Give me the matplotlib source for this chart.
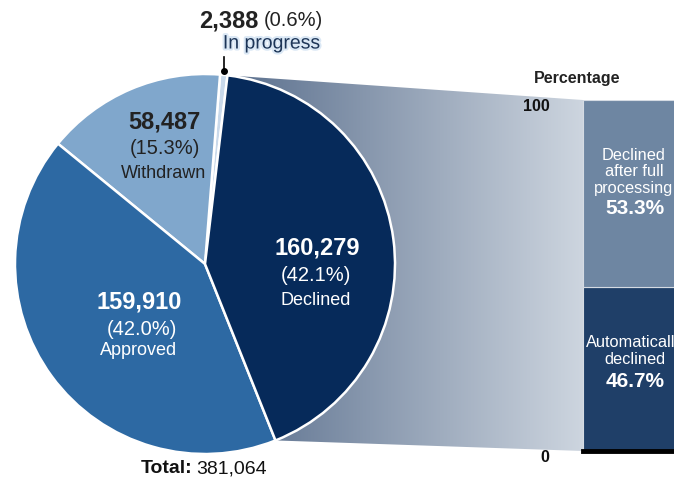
import matplotlib
matplotlib.use('Agg')
import matplotlib.pyplot as plt
import numpy as np
from matplotlib.patches import Polygon
from matplotlib.colors import to_rgb
import matplotlib.patheffects as pe
import matplotlib.transforms as mtransforms

plt.rcParams['font.family'] = ['Liberation Sans', 'DejaVu Sans']

# ---- data ----
categories = ['In progress', 'Withdrawn', 'Approved', 'Declined']
counts = [2388, 58487, 159910, 160279]
shares = [0.6, 15.3, 42.0, 42.1]
total = 381064
slice_colors = ['#c9d9ea', '#80a7cc', '#2d69a3', '#062a5a']

breakdown_labels = ['Automatically\ndeclined', 'Declined\nafter full\nprocessing']
breakdown_values = [46.7, 53.3]
breakdown_colors = ['#1f3f68', '#6e86a2']
y_ticks = [0, 100]

W, H = 674, 489
fig = plt.figure(figsize=(W / 100, H / 100), dpi=100)


def fx(x):
    return x / W


def fy(y):
    return 1 - y / H


# background axes in display pixels (for connector gradient)
bg = fig.add_axes([0, 0, 1, 1], zorder=0)
bg.set_xlim(0, W)
bg.set_ylim(0, H)
bg.axis('off')

# ---- pie ----
cx, cy, r = 205, 265, 190
axp = fig.add_axes([fx(cx - r), fy(cy + r), 2 * r / W, 2 * r / H], zorder=2)
axp.patch.set_alpha(0)
wedges, _ = axp.pie(counts, colors=slice_colors, startangle=83.2, counterclock=True,
                    wedgeprops=dict(edgecolor='white', linewidth=1.8))
axp.set_xlim(-1, 1)
axp.set_ylim(-1, 1)

# ---- stacked bar ----
bar_top_px, bar_bot_px, bar_left_px = 101, 452, 583
axb = fig.add_axes([fx(bar_left_px), fy(bar_bot_px), 0.2, (bar_bot_px - bar_top_px) / H], zorder=1)
bottom = 0
for v, c in zip(breakdown_values, breakdown_colors):
    axb.bar(0, v, width=1, bottom=bottom, align='edge', color=c, edgecolor='#d5dbe3', linewidth=0.8)
    bottom += v
axb.set_xlim(0, 1)
axb.set_ylim(0, 100)
for s in ['left', 'top', 'right']:
    axb.spines[s].set_visible(False)
axb.spines['bottom'].set_linewidth(3.5)
axb.spines['bottom'].set_color('black')
axb.set_xticks([])
axb.set_yticks(y_ticks)
axb.set_yticklabels([str(t) for t in y_ticks], fontsize=11.5, fontweight='bold', color='#111111')
axb.tick_params(axis='y', length=0, pad=24)
off = mtransforms.ScaledTranslation(0, -4 / 72, fig.dpi_scale_trans)
for lbl in axb.get_yticklabels():
    lbl.set_transform(lbl.get_transform() + off)
    lbl.set_va('center')

# ---- connector gradient ----
dec = wedges[3]
t_top = np.deg2rad(dec.theta2)
t_bot = np.deg2rad(dec.theta1)
p_top = axp.transData.transform((np.cos(t_top), np.sin(t_top)))
p_bot = axp.transData.transform((np.cos(t_bot), np.sin(t_bot)))
b_top = axb.transData.transform((0, 100))
b_bot = axb.transData.transform((0, 0))
pts = np.array([p_top, b_top, b_bot, p_bot])
poly = Polygon(pts, closed=True, facecolor='none', edgecolor='none', transform=bg.transData)
bg.add_patch(poly)
c0 = np.array(to_rgb('#5a6f8d'))
c1 = np.array(to_rgb('#cdd5df'))
tt = np.linspace(0, 1, 256)
grad = (c0[None, :] * (1 - tt[:, None]) + c1[None, :] * tt[:, None])[None, :, :]
x0 = min(p_top[0], p_bot[0])
x1 = b_top[0]
im = bg.imshow(grad, extent=[x0, x1, pts[:, 1].min(), pts[:, 1].max()], aspect='auto',
               interpolation='bilinear', zorder=0)
im.set_clip_path(poly)
bg.set_xlim(0, W)
bg.set_ylim(0, H)

# ---- pie labels ----
dark = '#222222'


def lab(x, y, s, size, weight='normal', color='white', ha='center', **kw):
    return fig.text(fx(x), fy(y), s, fontsize=size, fontweight=weight, color=color,
                    ha=ha, va='center', zorder=5, **kw)


# Declined
lab(317, 248, f'{counts[3]:,}', 17, 'bold')
lab(316, 276, f'({shares[3]:.1f}%)', 14.5)
lab(316, 301, categories[3], 13)
# Approved
lab(139, 302, f'{counts[2]:,}', 17, 'bold')
lab(142, 330, f'({shares[2]:.1f}%)', 14.5)
lab(139, 351, categories[2], 13)
# Withdrawn
lab(164, 122, f'{counts[1]:,}', 17, 'bold', color=dark)
lab(165, 149, f'({shares[1]:.1f}%)', 14.5, color=dark)
lab(164, 174, categories[1], 13, color=dark)
# In progress
lab(259, 21, f'{counts[0]:,}', 17, 'bold', color=dark, ha='right')
lab(264, 21, f'({shares[0]:.1f}%)', 14.5, color=dark, ha='left')
t = lab(272, 45, categories[0], 14, color='#1d3557')
t.set_path_effects([pe.withStroke(linewidth=3, foreground='#dbe8f5')])

# leader line for in progress
ip = wedges[0]
tm = np.deg2rad((ip.theta1 + ip.theta2) / 2)
lx = np.cos(tm) * 1.0
axp.plot([lx, lx], [1.016, 1.09], color='black', linewidth=1.2, clip_on=False, zorder=5)
axp.plot([lx], [1.016], 'o', color='black', markersize=4, clip_on=False, zorder=5)

# Total
lab(192, 469, 'Total:', 14, 'bold', color='#111111', ha='right')
lab(196, 469, f'{total:,}', 14, color='#111111', ha='left')

# ---- bar labels ----
lab(534, 79, 'Percentage', 11.5, 'bold', color='#222222', ha='left')
lab(634, 172, breakdown_labels[1], 11.8, linespacing=1.1)
lab(635, 208, f'{breakdown_values[1]:.1f}%', 15, 'bold')
lab(635, 351, breakdown_labels[0], 11.8, linespacing=1.1)
lab(635, 382, f'{breakdown_values[0]:.1f}%', 15, 'bold')

fig.savefig('out.png', dpi=100)
